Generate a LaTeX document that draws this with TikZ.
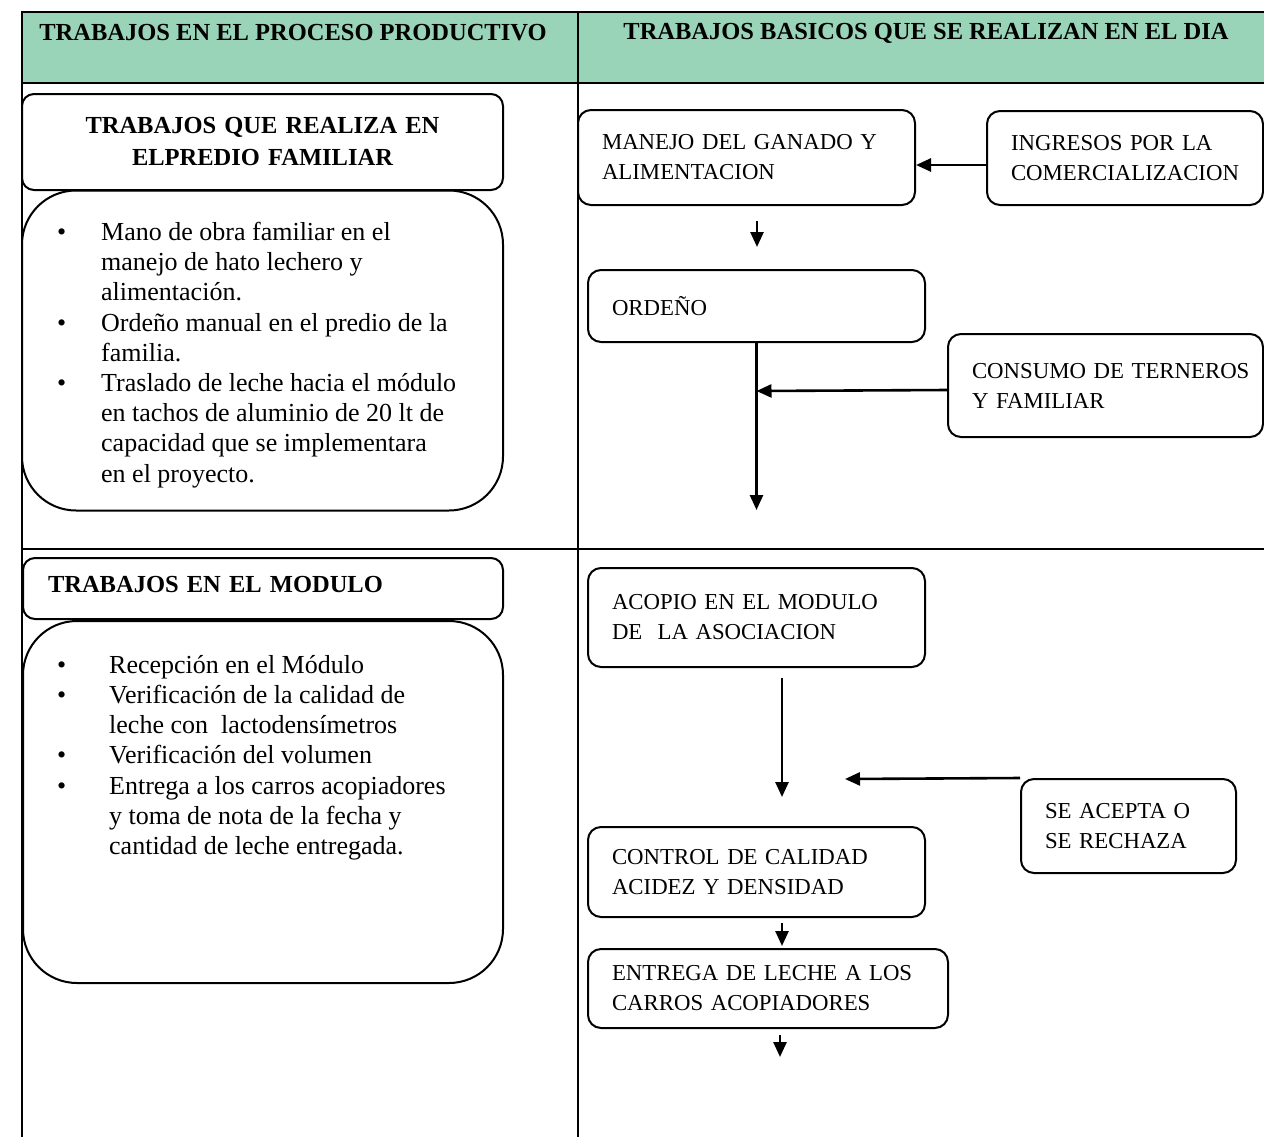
\documentclass[tikz,border=0pt]{standalone}
\usepackage{fontspec}
\setmainfont{Liberation Serif}
\usetikzlibrary{arrows.meta,calc}
\definecolor{hdr}{RGB}{153,212,184}
\newcommand\bul{\makebox[44pt][l]{\textbullet}}
\newcommand\myind{\hspace*{44pt}}
\begin{document}
\begin{tikzpicture}[x=1pt,y=-1pt,
  tbl/.style={line width=2.3pt, line cap=rect},
  rbox/.style={draw, line width=2pt, rounded corners=13pt, align=left,
    inner xsep=24pt, inner ysep=0pt, font=\fontsize{22.8}{30}\selectfont},
  bigbox/.style={draw, line width=2pt, rounded corners=54pt, inner sep=0pt},
  subbox/.style={draw, line width=2pt, rounded corners=12pt, inner ysep=0pt,
    font=\bfseries\fontsize{24.5}{32}\selectfont},
  hdrtxt/.style={font=\bfseries\fontsize{24.5}{30}\selectfont, inner sep=0pt},
  listtxt/.style={align=left, inner sep=0pt, anchor=north west,
    font=\fontsize{26}{30.2}\selectfont},
  arr/.style={line width=2.6pt, -{Triangle[length=15pt,width=13pt]}}
]
\useasboundingbox (0,0) rectangle (1264,1136);
% table
\fill[hdr] (22,12) rectangle (1264,83);
\draw[tbl] (22,12) -- (1266,12);
\draw[tbl] (22,83) -- (1266,83);
\draw[tbl] (22,549) -- (1266,549);
\draw[tbl] (22,12) -- (22,1140);
\draw[tbl] (578,12) -- (578,1140);
\node[hdrtxt] (h1) at (293,33) {TRABAJOS EN EL PROCESO PRODUCTIVO};
\node[hdrtxt] (h2) at (926,33) {TRABAJOS BASICOS QUE SE REALIZAN EN EL DIA};

% left column
\node[subbox, minimum height=96pt, text width=433pt, inner xsep=24pt, align=center]
  (sub1) at (262.5,142) {TRABAJOS QUE REALIZA EN\\ELPREDIO FAMILIAR};
\node[bigbox, minimum width=481pt, minimum height=320pt] (list1) at (262.5,350.5) {};
\node[listtxt] (l1txt) at (57,222) {\bul Mano de obra familiar en el\\
\myind manejo de hato lechero y\\
\myind alimentación.\\
\bul Ordeño manual en el predio de la\\
\myind familia.\\
\bul Traslado de leche hacia el módulo\\
\myind en tachos de aluminio de 20 lt de\\
\myind capacidad que se implementara\\
\myind en el proyecto.};

\node[subbox, minimum height=61pt, text width=430pt, inner xsep=25pt, align=left,
  text depth=9pt]
  (sub2) at (263,588.5) {TRABAJOS EN EL MODULO};
\node[bigbox, minimum width=480pt, minimum height=362pt] (list2) at (263,802) {};
\node[listtxt] (l2txt) at (57,655) {\makebox[52pt][l]{\textbullet}Recepción en el Módulo\\
\makebox[52pt][l]{\textbullet}Verificación de la calidad de\\
\hspace*{52pt}leche con \ lactodensímetros\\
\makebox[52pt][l]{\textbullet}Verificación del volumen\\
\makebox[52pt][l]{\textbullet}Entrega a los carros acopiadores\\
\hspace*{52pt}y toma de nota de la fecha y\\
\hspace*{52pt}cantidad de leche entregada.};

% right column
\node[rbox, minimum height=95pt, text width=289pt] (manejo) at (746.5,157.5)
  {MANEJO DEL GANADO Y\\ALIMENTACION};
\node[rbox, minimum height=94pt, text width=228pt] (ingresos) at (1125,158)
  {INGRESOS POR LA\\\mbox{COMERCIALIZACION}};
\node[rbox, minimum height=72pt, text width=289pt] (ordeno) at (756.5,306)
  {ORDEÑO};
\node[rbox, minimum height=103pt, text width=267pt] (consumo) at (1105.5,385.5)
  {\mbox{CONSUMO DE TERNEROS}\\Y FAMILIAR};
\node[rbox, minimum height=99pt, text width=289pt] (acopio) at (756.5,617.5)
  {ACOPIO EN EL MODULO\\DE \ LA ASOCIACION};
\node[rbox, minimum height=94pt, text width=167pt] (acepta) at (1128.5,826)
  {SE ACEPTA O\\SE RECHAZA};
\node[rbox, minimum height=90pt, text width=289pt] (control) at (756.5,872)
  {CONTROL DE CALIDAD\\ACIDEZ Y DENSIDAD};
\node[rbox, minimum height=79pt, text width=312pt] (entrega) at (768,988.5)
  {ENTREGA DE LECHE A LOS\\CARROS ACOPIADORES};

\coordinate (end1) at (756.5,510);
\coordinate (mid2) at (845,779);
\coordinate (end3) at (780,1057);

% connectors
\draw[arr] ($(ingresos.west)+(0,7)$) -- ($(manejo.east)+(0,7.5)$);
\draw[arr] ($(ordeno.north)+(0.5,-48)$) -- ($(ordeno.north)+(0.5,-22)$);
\draw[arr] (ordeno.south) -- (end1);
\draw[arr] ($(consumo.west)+(0,4.5)$) -- ($(ordeno.south)+(0,48)$);
\draw[arr] ($(acopio.south)+(25.5,10)$) -- ($(control.north)+(25.5,-29)$);
\draw[arr] (acepta.north west) -- (mid2);
\draw[arr] ($(control.south)+(25.5,5)$) -- ($(entrega.north)+(14,-2)$);
\draw[arr] ($(entrega.south)+(12,6)$) -- (end3);
\end{tikzpicture}
\end{document}
